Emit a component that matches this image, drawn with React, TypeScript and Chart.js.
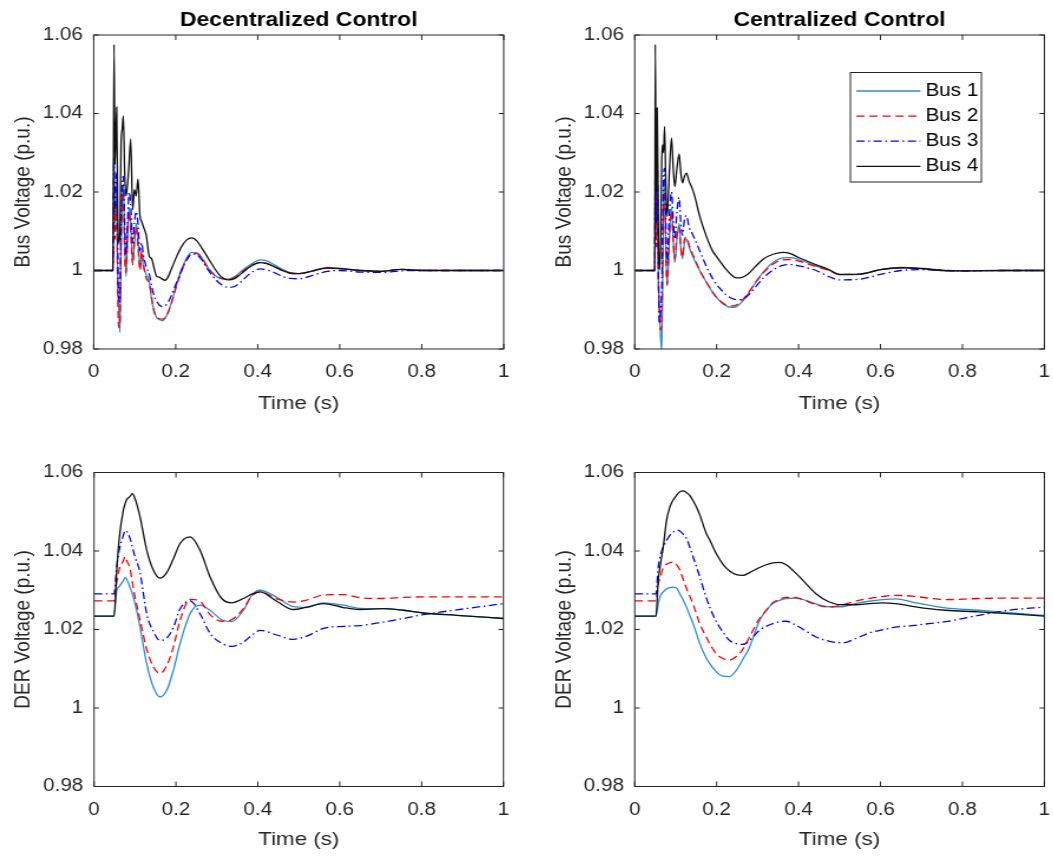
import { useEffect, useRef } from "react";
import { Chart, registerables } from "chart.js";

Chart.register(...registerables);

// ---------------- text & ticks ----------------
const busNames = ["Bus 1", "Bus 2", "Bus 3", "Bus 4"];
const panelTitles = ["Decentralized Control", "Centralized Control"];
const xAxisLabel = "Time (s)";
const yAxisLabels = ["Bus Voltage (p.u.)", "DER Voltage (p.u.)"];
const xTickValues = [0, 0.2, 0.4, 0.6, 0.8, 1];
const xTickLabels = ["0", "0.2", "0.4", "0.6", "0.8", "1"];
const yTickValues = [0.98, 1, 1.02, 1.04, 1.06];
const yTickLabels = ["0.98", "1", "1.02", "1.04", "1.06"];

// ---------------- Decentralized – bus voltage ----------------
const timeDecBus = [0, 0.047, 0.0495, 0.052, 0.056, 0.0585, 0.061, 0.064, 0.0666, 0.0695, 0.0723, 0.0755, 0.0788, 0.0825, 0.0861, 0.0902, 0.095, 0.0991, 0.1035, 0.108, 0.1129, 0.117, 0.121, 0.128, 0.1357, 0.1414, 0.1475, 0.1536, 0.16, 0.167, 0.174, 0.182, 0.19, 0.2024, 0.215, 0.227, 0.239, 0.252, 0.265, 0.28, 0.295, 0.31, 0.328, 0.345, 0.36, 0.375, 0.39, 0.4055, 0.42, 0.44, 0.46, 0.48, 0.5, 0.52, 0.55, 0.57, 0.6, 0.65, 0.7, 0.75, 0.8, 0.9, 1.0];
const decBus1 = [1.0, 1.0, 1.028, 1.012, 1.02, 0.998, 0.99, 0.9842, 1.005, 1.018, 1.022, 1.008, 0.9985, 1.008, 1.016, 1.012, 1.002, 1.006, 1.012, 1.008, 1.001, 1.004, 1.001, 0.999, 0.997, 0.9925, 0.9895, 0.988, 0.9875, 0.9872, 0.9878, 0.9895, 0.992, 0.9965, 1.0005, 1.0032, 1.0046, 1.0045, 1.003, 1.0005, 0.9988, 0.998, 0.9978, 0.9985, 0.9998, 1.001, 1.002, 1.0027, 1.0025, 1.0015, 1.0003, 0.9994, 0.9992, 0.9996, 1.0004, 1.0008, 1.0006, 1.0, 0.9998, 1.0003, 1.0001, 1.0, 1.0];
const decBus2 = [1.0, 1.0, 1.022, 1.008, 1.018, 0.995, 0.9855, 0.986, 1.008, 1.02, 1.019, 1.004, 0.9995, 1.01, 1.015, 1.01, 1.0015, 1.008, 1.011, 1.006, 1.0, 1.005, 1.002, 0.998, 0.9968, 0.993, 0.9895, 0.9882, 0.9877, 0.9876, 0.988, 0.9895, 0.9918, 0.9962, 1.0, 1.0028, 1.0041, 1.0043, 1.003, 1.0005, 0.9988, 0.998, 0.9977, 0.9983, 0.9995, 1.0007, 1.0016, 1.002, 1.0019, 1.001, 1.0, 0.9993, 0.9992, 0.9995, 1.0003, 1.0007, 1.0005, 1.0, 0.9998, 1.0003, 1.0, 1.0, 1.0];
const decBus3 = [1.0, 1.0, 1.029, 1.015, 1.025, 1.005, 0.993, 0.992, 1.012, 1.022, 1.024, 1.012, 1.004, 1.012, 1.02, 1.017, 1.007, 1.012, 1.015, 1.012, 1.005, 1.007, 1.004, 1.001, 0.999, 0.996, 0.9935, 0.9922, 0.9912, 0.9908, 0.991, 0.992, 0.9938, 0.997, 1.0002, 1.0028, 1.0042, 1.004, 1.0025, 1.0, 0.998, 0.9965, 0.9957, 0.996, 0.9972, 0.9987, 0.9998, 1.0004, 1.0002, 0.9995, 0.9985, 0.998, 0.9979, 0.9983, 0.9993, 0.9998, 1.0, 0.9996, 0.9995, 0.9999, 1.0, 1.0, 1.0];
const decBus4 = [1.0, 1.0, 1.0576, 1.027, 1.0416, 1.015, 1.007, 1.009, 1.032, 1.036, 1.0394, 1.025, 1.019, 1.022, 1.027, 1.0335, 1.0155, 1.0206, 1.019, 1.0233, 1.0138, 1.0125, 1.0112, 1.009, 1.0036, 1.003, 1.0005, 0.9985, 0.9983, 0.9978, 0.9975, 0.9985, 1.0005, 1.0036, 1.0062, 1.0078, 1.0083, 1.0075, 1.0055, 1.003, 1.0005, 0.9985, 0.9976, 0.998, 0.9992, 1.0005, 1.0015, 1.002, 1.0018, 1.001, 1.0, 0.9993, 0.9992, 0.9995, 1.0003, 1.0006, 1.0005, 1.0, 0.9998, 1.0003, 1.0, 1.0, 1.0];

// ---------------- Centralized – bus voltage ----------------
const timeCenBus = [0, 0.049, 0.0502, 0.0525, 0.055, 0.0575, 0.06, 0.063, 0.066, 0.068, 0.0705, 0.0729, 0.076, 0.0793, 0.0845, 0.0899, 0.094, 0.098, 0.103, 0.1085, 0.1125, 0.1166, 0.1215, 0.1263, 0.1328, 0.14, 0.1466, 0.1588, 0.175, 0.19, 0.1993, 0.212, 0.2236, 0.235, 0.248, 0.26, 0.275, 0.2966, 0.315, 0.34, 0.3614, 0.38, 0.4, 0.4424, 0.475, 0.5, 0.55, 0.6, 0.65, 0.7, 0.75, 0.8, 0.9, 1.0];
const cenBus1 = [1.0, 1.0, 1.022, 1.008, 1.025, 1.0, 0.992, 0.9835, 0.9795, 0.995, 1.018, 1.022, 1.005, 0.996, 1.008, 1.016, 1.008, 1.002, 1.008, 1.012, 1.006, 1.003, 1.007, 1.008, 1.006, 1.004, 1.0025, 1.0, 0.997, 0.9945, 0.9932, 0.9918, 0.991, 0.9906, 0.9908, 0.9918, 0.9938, 0.9972, 0.9998, 1.0022, 1.0032, 1.0033, 1.0028, 1.0012, 1.0, 0.9989, 0.999, 1.0002, 1.0008, 1.0006, 1.0001, 0.9999, 1.0, 1.0];
const cenBus2 = [1.0, 1.0, 1.018, 1.006, 1.022, 0.998, 0.99, 0.9848, 0.987, 1.0, 1.02, 1.02, 1.004, 0.9965, 1.009, 1.015, 1.007, 1.003, 1.009, 1.011, 1.0055, 1.0035, 1.008, 1.0085, 1.0065, 1.0045, 1.003, 1.0, 0.997, 0.9945, 0.9932, 0.992, 0.9912, 0.9909, 0.9912, 0.9922, 0.994, 0.9972, 0.9995, 1.0018, 1.0027, 1.0028, 1.0024, 1.001, 1.0, 0.999, 0.9991, 1.0002, 1.0007, 1.0005, 1.0001, 0.9999, 1.0, 1.0];
const cenBus3 = [1.0, 1.0, 1.026, 1.012, 1.028, 1.004, 0.9865, 0.989, 0.995, 1.01, 1.024, 1.026, 1.012, 1.002, 1.014, 1.02, 1.013, 1.008, 1.015, 1.0186, 1.012, 1.009, 1.013, 1.014, 1.011, 1.0095, 1.008, 1.005, 1.001, 0.998, 0.9965, 0.995, 0.9938, 0.993, 0.9926, 0.9926, 0.9935, 0.996, 0.9982, 1.0003, 1.0013, 1.0015, 1.0012, 1.0, 0.9984, 0.9976, 0.9978, 0.999, 1.0, 1.0002, 1.0, 0.9999, 1.0, 1.0];
const cenBus4 = [1.0, 1.0, 1.0576, 1.02, 1.0414, 1.012, 1.0002, 1.006, 1.028, 1.032, 1.03, 1.0367, 1.022, 1.0138, 1.025, 1.0337, 1.026, 1.0214, 1.026, 1.0297, 1.025, 1.0223, 1.024, 1.0248, 1.0227, 1.021, 1.0189, 1.0138, 1.0087, 1.005, 1.0036, 1.0018, 1.0002, 0.999, 0.9981, 0.9982, 0.999, 1.0012, 1.003, 1.0042, 1.0046, 1.0043, 1.0033, 1.0015, 1.0002, 0.999, 0.9991, 1.0002, 1.0007, 1.0005, 1.0, 0.9999, 1.0, 1.0];

// ---------------- Decentralized – DER voltage ----------------
const timeDecDer = [0, 0.0488, 0.0554, 0.0619, 0.0716, 0.0757, 0.0798, 0.0879, 0.0936, 0.1001, 0.1123, 0.1286, 0.1449, 0.1612, 0.1775, 0.1937, 0.21, 0.2344, 0.2589, 0.2833, 0.3117, 0.3362, 0.3647, 0.385, 0.4054, 0.4461, 0.4868, 0.5193, 0.56, 0.6089, 0.6496, 0.7065, 0.7554, 0.8042, 0.8856, 1.0];
const decDer1 = [1.0234, 1.0234, 1.03, 1.031, 1.0325, 1.0332, 1.0328, 1.0307, 1.0291, 1.0266, 1.0206, 1.0113, 1.0053, 1.0028, 1.0045, 1.0096, 1.0164, 1.024, 1.0262, 1.0249, 1.0225, 1.022, 1.0249, 1.0287, 1.03, 1.0282, 1.0258, 1.0256, 1.0268, 1.0262, 1.0254, 1.0253, 1.0249, 1.0242, 1.0236, 1.0228];
const decDer2 = [1.0273, 1.0273, 1.032, 1.0355, 1.0375, 1.0386, 1.0375, 1.0355, 1.032, 1.0283, 1.0225, 1.015, 1.0105, 1.0088, 1.0108, 1.0155, 1.0223, 1.0277, 1.0272, 1.0238, 1.0221, 1.0225, 1.0253, 1.0285, 1.0296, 1.0278, 1.027, 1.0275, 1.0288, 1.0289, 1.0281, 1.0279, 1.0282, 1.0283, 1.0283, 1.0283];
const decDer3 = [1.0291, 1.0291, 1.036, 1.0405, 1.044, 1.0452, 1.045, 1.0432, 1.041, 1.0385, 1.0345, 1.024, 1.0195, 1.0172, 1.0178, 1.0205, 1.0252, 1.0273, 1.024, 1.019, 1.0165, 1.0157, 1.0168, 1.0185, 1.0198, 1.0186, 1.0175, 1.0183, 1.0203, 1.0208, 1.021, 1.0219, 1.0228, 1.0238, 1.025, 1.0266];
const decDer4 = [1.0234, 1.0234, 1.0351, 1.0436, 1.0504, 1.052, 1.0531, 1.0539, 1.0546, 1.0533, 1.0487, 1.0402, 1.0351, 1.0331, 1.0345, 1.038, 1.0419, 1.0436, 1.0402, 1.0334, 1.0279, 1.0268, 1.0279, 1.029, 1.0296, 1.0272, 1.0251, 1.0257, 1.0266, 1.0256, 1.0251, 1.0253, 1.0249, 1.0242, 1.0236, 1.0228];

// ---------------- Centralized – DER voltage ----------------
const timeCenDer = [0, 0.0518, 0.0575, 0.0631, 0.0696, 0.0777, 0.0858, 0.0939, 0.102, 0.1101, 0.1182, 0.1263, 0.1344, 0.1426, 0.1507, 0.1588, 0.175, 0.1831, 0.1993, 0.2155, 0.2317, 0.2479, 0.2641, 0.2803, 0.3047, 0.3208, 0.337, 0.3533, 0.3695, 0.3938, 0.4181, 0.4424, 0.4748, 0.5073, 0.5397, 0.5721, 0.6045, 0.6369, 0.6774, 0.718, 0.7585, 0.8395, 0.9206, 1.0];
const cenDer1 = [1.0234, 1.0234, 1.0266, 1.0287, 1.0296, 1.0304, 1.0307, 1.0308, 1.0306, 1.0291, 1.0275, 1.0257, 1.0236, 1.0215, 1.019, 1.0164, 1.0127, 1.0113, 1.0092, 1.0081, 1.008, 1.0096, 1.0124, 1.0155, 1.0223, 1.0248, 1.0266, 1.0274, 1.0279, 1.028, 1.0274, 1.0265, 1.0258, 1.0258, 1.0266, 1.0272, 1.0276, 1.0278, 1.027, 1.0262, 1.0255, 1.0249, 1.0242, 1.0236];
const cenDer2 = [1.0273, 1.0273, 1.0317, 1.0334, 1.0359, 1.0366, 1.037, 1.0372, 1.0365, 1.0352, 1.0328, 1.0305, 1.0285, 1.0264, 1.024, 1.0215, 1.018, 1.0164, 1.0138, 1.0126, 1.0122, 1.0131, 1.015, 1.0181, 1.0228, 1.0248, 1.0268, 1.0277, 1.0282, 1.0281, 1.0273, 1.0263, 1.0257, 1.0263, 1.0272, 1.0279, 1.0284, 1.0287, 1.0285, 1.028, 1.0276, 1.0279, 1.028, 1.028];
const cenDer3 = [1.0291, 1.0291, 1.0359, 1.039, 1.041, 1.0427, 1.044, 1.0448, 1.0453, 1.0451, 1.0443, 1.0432, 1.041, 1.0385, 1.036, 1.0334, 1.028, 1.0257, 1.022, 1.0193, 1.0172, 1.0164, 1.0162, 1.0172, 1.0198, 1.0208, 1.0215, 1.022, 1.0221, 1.0211, 1.0196, 1.0181, 1.017, 1.0166, 1.0177, 1.0191, 1.0199, 1.0206, 1.021, 1.0215, 1.022, 1.0236, 1.025, 1.0257];
const cenDer4 = [1.0234, 1.0234, 1.0325, 1.0368, 1.041, 1.0478, 1.0512, 1.053, 1.0542, 1.0551, 1.0553, 1.0549, 1.0542, 1.0528, 1.0512, 1.0492, 1.0444, 1.0428, 1.0393, 1.0366, 1.0349, 1.034, 1.0338, 1.0345, 1.0358, 1.0365, 1.037, 1.0371, 1.0365, 1.0343, 1.0317, 1.0291, 1.027, 1.0263, 1.0263, 1.0266, 1.0268, 1.0266, 1.0259, 1.0253, 1.0249, 1.0245, 1.024, 1.0234];

// ---------------- styling ----------------
const SX = 1.18; // horizontal stretch of the reference figure
const FONT = '"Liberation Sans", Arial, Helvetica, sans-serif';
const AXIS_COLOR = "#262626";
const LINE_COLORS = ["#2a8ed0", "#ff0000", "#0000ff", "#111111"];
const LINE_DASHES: number[][] = [[], [7, 4], [7, 3, 1.5, 3], []];
const TICK_SIZE = 17.5;
const LABEL_SIZE = 19;

interface PanelSpec {
  left: number;
  top: number;
  width: number;
  height: number;
  axisW: number;
  padR: number;
  padT: number;
  axisH: number;
  titleText?: string;
  yLabel: string;
  time: number[];
  series: number[][];
  legend: boolean;
  xTitlePadB: number;
}

const panels: PanelSpec[] = [
  { left: 0, top: 0, width: 445, height: 420, axisW: 79.4, padR: 445 - 426.9, padT: 0, axisH: 71, titleText: panelTitles[0], yLabel: yAxisLabels[0], time: timeDecBus, series: [decBus1, decBus2, decBus3, decBus4], legend: false, xTitlePadB: 4.6 },
  { left: 540, top: 0, width: 445, height: 420, axisW: 80.25, padR: 445 - 428.8, padT: 0, axisH: 71, titleText: panelTitles[1], yLabel: yAxisLabels[0], time: timeCenBus, series: [cenBus1, cenBus2, cenBus3, cenBus4], legend: true, xTitlePadB: 4.6 },
  { left: 0, top: 430, width: 445, height: 427, axisW: 79.7, padR: 445 - 426.7, padT: 42.5, axisH: 70.5, yLabel: yAxisLabels[1], time: timeDecDer, series: [decDer1, decDer2, decDer3, decDer4], legend: false, xTitlePadB: 5.6 },
  { left: 540, top: 430, width: 445, height: 427, axisW: 80.25, padR: 445 - 428.8, padT: 42.5, axisH: 70.5, yLabel: yAxisLabels[1], time: timeCenDer, series: [cenDer1, cenDer2, cenDer3, cenDer4], legend: false, xTitlePadB: 5.6 },
];

const matlabAxes = {
  id: "matlabAxes",
  afterDatasetsDraw(chart: any) {
    const { ctx, chartArea: a, scales } = chart;
    ctx.save();
    ctx.strokeStyle = AXIS_COLOR;
    ctx.lineWidth = 1;
    ctx.setLineDash([]);
    ctx.strokeRect(a.left, a.top, a.right - a.left, a.bottom - a.top);
    const tv = 5;
    const th = 5 / SX;
    ctx.beginPath();
    xTickValues.forEach((v) => {
      const p = scales.x.getPixelForValue(v);
      ctx.moveTo(p, a.bottom);
      ctx.lineTo(p, a.bottom - tv);
      ctx.moveTo(p, a.top);
      ctx.lineTo(p, a.top + tv);
    });
    yTickValues.forEach((v) => {
      const p = scales.y.getPixelForValue(v);
      ctx.moveTo(a.left, p);
      ctx.lineTo(a.left + th, p);
      ctx.moveTo(a.right, p);
      ctx.lineTo(a.right - th, p);
    });
    ctx.stroke();
    ctx.restore();
  },
};

const matlabLegend = {
  id: "matlabLegend",
  afterDraw(chart: any) {
    const { ctx, chartArea: a } = chart;
    const boxW = 111;
    const boxH = 109.5;
    const x0 = a.right - 53.4 - boxW;
    const y0 = a.top + 37.5;
    ctx.save();
    ctx.fillStyle = "#ffffff";
    ctx.fillRect(x0, y0, boxW, boxH);
    ctx.strokeStyle = AXIS_COLOR;
    ctx.lineWidth = 1;
    ctx.setLineDash([]);
    ctx.strokeRect(x0, y0, boxW, boxH);
    chart.data.datasets.forEach((ds: any, i: number) => {
      const cy = y0 + 18.5 + i * 25.1;
      ctx.strokeStyle = ds.borderColor;
      ctx.lineWidth = ds.borderWidth;
      ctx.setLineDash(ds.borderDash || []);
      ctx.beginPath();
      ctx.moveTo(x0 + 5.1, cy);
      ctx.lineTo(x0 + 59.3, cy);
      ctx.stroke();
      ctx.setLineDash([]);
      ctx.fillStyle = "#000000";
      ctx.font = `${TICK_SIZE}px ${FONT}`;
      ctx.textBaseline = "middle";
      ctx.textAlign = "left";
      ctx.fillText(ds.label, x0 + 63.6, cy);
    });
    ctx.restore();
  },
};

function buildConfig(p: PanelSpec): any {
  const datasets = p.series.map((vals, i) => ({
    label: busNames[i],
    data: p.time.map((t, k) => ({ x: t, y: vals[k] })),
    borderColor: LINE_COLORS[i],
    backgroundColor: LINE_COLORS[i],
    borderWidth: 1.3,
    borderDash: LINE_DASHES[i],
    pointRadius: 0,
    cubicInterpolationMode: "monotone",
    fill: false,
    order: 4 - i,
  }));
  const titleHeight = 35;
  const titleFont = 19.5;
  const titleLine = titleFont * 1.2;
  return {
    type: "line",
    data: { datasets },
    plugins: p.legend ? [matlabAxes, matlabLegend] : [matlabAxes],
    options: {
      animation: false,
      responsive: false,
      maintainAspectRatio: false,
      devicePixelRatio: 1,
      layout: { padding: { left: 0, right: p.padR, top: p.padT, bottom: 0 } },
      plugins: {
        legend: { display: false },
        tooltip: { enabled: false },
        title: p.titleText
          ? {
              display: true,
              text: p.titleText,
              fullSize: false,
              color: "#000000",
              font: { family: FONT, size: titleFont, weight: "bold", lineHeight: 1.2 },
              padding: { top: 8.8, bottom: titleHeight - titleLine - 8.8 },
            }
          : { display: false },
      },
      scales: {
        x: {
          type: "linear",
          min: 0,
          max: 1,
          afterBuildTicks: (s: any) => {
            s.ticks = xTickValues.map((v) => ({ value: v }));
          },
          afterFit: (s: any) => {
            s.height = p.axisH;
          },
          grid: { display: false, drawTicks: false },
          border: { display: false },
          ticks: {
            padding: 12.7,
            color: AXIS_COLOR,
            autoSkip: false,
            maxRotation: 0,
            font: { family: FONT, size: TICK_SIZE },
            callback: (_v: any, i: number) => xTickLabels[i],
          },
          title: {
            display: true,
            text: xAxisLabel,
            color: AXIS_COLOR,
            font: { family: FONT, size: LABEL_SIZE },
            padding: { top: 0, bottom: p.xTitlePadB },
          },
        },
        y: {
          type: "linear",
          min: 0.98,
          max: 1.06,
          afterBuildTicks: (s: any) => {
            s.ticks = yTickValues.map((v) => ({ value: v }));
          },
          afterFit: (s: any) => {
            s.width = p.axisW;
          },
          grid: { display: false, drawTicks: false },
          border: { display: false },
          ticks: {
            padding: 9.1,
            color: AXIS_COLOR,
            autoSkip: false,
            font: { family: FONT, size: TICK_SIZE },
            callback: (_v: any, i: number) => yTickLabels[i],
          },
          title: {
            display: true,
            text: p.yLabel,
            color: AXIS_COLOR,
            font: { family: FONT, size: LABEL_SIZE },
            padding: { top: p.axisW - 59.7 - (LABEL_SIZE * 1.2) / 2, bottom: 0 },
          },
        },
      },
    },
  };
}

function Panel({ spec }: { spec: PanelSpec }) {
  const ref = useRef<HTMLCanvasElement | null>(null);
  useEffect(() => {
    if (!ref.current) return;
    const chart = new Chart(ref.current, buildConfig(spec));
    return () => chart.destroy();
  }, [spec]);
  return (
    <canvas
      ref={ref}
      width={spec.width}
      height={spec.height}
      style={{
        position: "absolute",
        left: spec.left,
        top: spec.top,
        width: spec.width,
        height: spec.height,
        transform: `scaleX(${SX})`,
        transformOrigin: "0 0",
      }}
    />
  );
}

export default function App() {
  return (
    <div
      style={{
        position: "absolute",
        left: 0,
        top: 0,
        width: 1053,
        height: 857,
        overflow: "hidden",
        background: "#ffffff",
      }}
    >
      {panels.map((p, i) => (
        <Panel key={i} spec={p} />
      ))}
    </div>
  );
}
